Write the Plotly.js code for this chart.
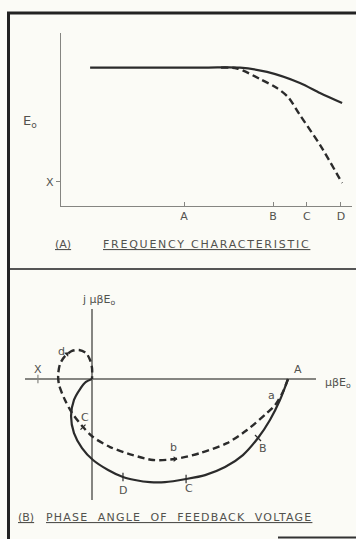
<!DOCTYPE html>
<html>
<head>
<meta charset="utf-8">
<script src="https://cdn.plot.ly/plotly-3.0.1.min.js"></script>
<style>
  body { margin: 0; background: #fbfbf6; }
  #chart { width: 356px; height: 539px; }
</style>
</head>
<body>
<div id="chart"></div>
<script>
// (A) frequency characteristic, arbitrary units
var freqTickVals = [42.3, 72.9, 84.5, 96.2]
var freqTickText = ['A', 'B', 'C', 'D']
var levelX = 14

var solidFreq = [10, 30, 50, 61.5, 70.8, 82.1, 89.0, 96.6]
var solidE0 = [80, 80, 80, 80, 77.5, 71.1, 65.3, 59.5]

var dashFreq = [55, 60.5, 68.4, 74.2, 78.0, 82.1, 89.0, 96.6]
var dashE0 = [80, 79.5, 73.4, 68.2, 63.0, 52.6, 35.3, 13.3]

// (B) feedback voltage vector locus, real / imaginary parts (A = 1)
var solidRe = [1, 0.959, 0.908, 0.847, 0.770, 0.679, 0.577, 0.480, 0.372, 0.296, 0.219, 0.158, 0.082, 0.005, -0.051, -0.092, -0.107, -0.092, -0.061, -0.031, 0]
var solidIm = [0, -0.107, -0.209, -0.301, -0.388, -0.449, -0.490, -0.510, -0.526, -0.526, -0.515, -0.500, -0.464, -0.413, -0.352, -0.276, -0.189, -0.107, -0.051, -0.015, 0]

var dashRe = [1, 0.974, 0.934, 0.893, 0.791, 0.689, 0.551, 0.423, 0.311, 0.209, 0.092, 0.005, -0.046, -0.102, -0.138, -0.168, -0.173, -0.163, -0.138, -0.102, -0.066, -0.031, -0.010, 0, 0]
var dashIm = [0, -0.066, -0.133, -0.173, -0.260, -0.327, -0.378, -0.408, -0.413, -0.388, -0.347, -0.296, -0.245, -0.173, -0.107, -0.031, 0.020, 0.077, 0.117, 0.143, 0.148, 0.133, 0.097, 0.056, 0]

// frequency marks along the loci
var solidMarkRe = [0.847, 0.480, 0.158]
var solidMarkIm = [-0.301, -0.510, -0.500]
var dashMarkRe = [-0.046]
var dashMarkIm = [-0.245]
var arrowRe = [0.423, -0.128]
var arrowIm = [-0.408, 0.128]
var pointX = -0.276

var ink = '#2b2b2b'
var grey = '#858581'
var textGrey = '#52524e'
var font = {family: 'DejaVu Sans', size: 11, color: textGrey}

var data = [
    {x: solidFreq, y: solidE0, mode: 'lines', line: {color: ink, width: 2.2, shape: 'spline', smoothing: 0.8}, xaxis: 'x', yaxis: 'y'},
    {x: dashFreq, y: dashE0, mode: 'lines', line: {color: ink, width: 2.4, dash: '7px,4px', shape: 'spline', smoothing: 0.8}, xaxis: 'x', yaxis: 'y'},
    {x: solidRe, y: solidIm, mode: 'lines', line: {color: ink, width: 2.2, shape: 'spline', smoothing: 0.8}, xaxis: 'x2', yaxis: 'y2'},
    {x: dashRe, y: dashIm, mode: 'lines', line: {color: ink, width: 2.4, dash: '7px,4px', shape: 'spline', smoothing: 0.8}, xaxis: 'x2', yaxis: 'y2'},
    {x: solidMarkRe, y: solidMarkIm, mode: 'markers', marker: {symbol: ['line-nw', 'line-ns', 'line-ns'], size: 6, line: {color: ink, width: 1.2}}, xaxis: 'x2', yaxis: 'y2'},
    {x: dashMarkRe, y: dashMarkIm, mode: 'markers', marker: {symbol: 'line-ne', size: 5, line: {color: ink, width: 1.2}}, xaxis: 'x2', yaxis: 'y2'},
    {x: arrowRe, y: arrowIm, mode: 'markers', marker: {symbol: 'triangle-right', size: 5, angle: [0, -45], color: ink}, xaxis: 'x2', yaxis: 'y2'},
    {x: [pointX], y: [0], mode: 'markers', marker: {symbol: 'line-ns', size: 6, line: {color: grey, width: 1.2}}, xaxis: 'x2', yaxis: 'y2'}
]

function lbl(x, y, text, xref, yref, extra) {
    var a = {x: x, y: y, text: text, xref: xref || 'x2', yref: yref || 'y2', showarrow: false,
        xanchor: 'center', yanchor: 'middle', font: font}
    for (var k in extra) a[k] = extra[k]
    return a
}

function spaced(s, px) {
    return '<span style="letter-spacing:' + px + 'px">' + s + '</span>'
}

var annotations = [
    lbl(0.085, 0.774, 'E<sub>o</sub>', 'paper', 'paper', {font: {family: 'DejaVu Sans', size: 13, color: textGrey}}),
    lbl(0.149, 0.5455, '<u>(A)</u>', 'paper', 'paper', {xanchor: 'left'}),
    lbl(0.284, 0.5455, '<u>' + spaced('FREQUENCY CHARACTERISTIC', 1.75) + '</u>', 'paper', 'paper', {xanchor: 'left'}),
    lbl(0.045, 0.039, '<u>(B)</u>', 'paper', 'paper', {xanchor: 'left'}),
    lbl(0.124, 0.039, '<u>' + spaced('PHASE  ANGLE  OF  FEEDBACK  VOLTAGE', 1.2) + '</u>', 'paper', 'paper', {xanchor: 'left'}),
    lbl(0.278, 0.4434, 'j μβE<sub>o</sub>', 'paper', 'paper'),
    lbl(0.949, 0.2894, 'μβE<sub>o</sub>', 'paper', 'paper'),
    lbl(1.05, 0.046, 'A'),
    lbl(pointX, 0.046, 'X'),
    lbl(0.918, -0.082, 'a'),
    lbl(0.872, -0.352, 'B'),
    lbl(0.495, -0.556, 'C'),
    lbl(0.158, -0.566, 'D'),
    lbl(0.418, -0.347, 'b'),
    lbl(-0.036, -0.194, 'C'),
    lbl(-0.158, 0.138, 'd')
]

var shapes = [
    {type: 'line', xref: 'paper', yref: 'paper', x0: 7 / 356, x1: 1, y0: 1 - 13 / 539, y1: 1 - 13 / 539, line: {color: '#222', width: 3}},
    {type: 'line', xref: 'paper', yref: 'paper', x0: 8.5 / 356, x1: 8.5 / 356, y0: 0, y1: 1 - 12 / 539, line: {color: '#222', width: 3}},
    {type: 'line', xref: 'paper', yref: 'paper', x0: 10 / 356, x1: 1, y0: 1 - 269 / 539, y1: 1 - 269 / 539, line: {color: '#555', width: 2}},
    {type: 'line', xref: 'paper', yref: 'paper', x0: 278 / 356, x1: 1, y0: 1 - 537.5 / 539, y1: 1 - 537.5 / 539, line: {color: '#333', width: 2}}
]

var layout = {
    width: 356,
    height: 539,
    margin: {l: 0, r: 0, t: 0, b: 0},
    paper_bgcolor: '#fbfbf6',
    plot_bgcolor: 'rgba(0,0,0,0)',
    showlegend: false,
    font: font,
    xaxis: {
        domain: [61 / 356, 352 / 356], range: [0, 100], showgrid: false, zeroline: false,
        showline: true, linecolor: grey, linewidth: 1.2,
        tickvals: freqTickVals, ticktext: freqTickText, ticks: 'inside', ticklen: 4, tickcolor: grey
    },
    yaxis: {
        domain: [1 - 206 / 539, 1 - 33 / 539], range: [0, 100], showgrid: false, zeroline: false,
        showline: true, linecolor: grey, linewidth: 1.2,
        tickvals: [levelX], ticktext: ['X'], ticks: 'outside', ticklen: 4, tickcolor: grey
    },
    xaxis2: {
        domain: [25 / 356, 316 / 356], range: [-0.342, 1.143], showgrid: false, showticklabels: false,
        zeroline: true, zerolinecolor: grey, zerolinewidth: 1.2, showline: false, anchor: 'y2'
    },
    yaxis2: {
        domain: [1 - 500 / 539, 1 - 309 / 539], range: [-0.617, 0.357], showgrid: false, showticklabels: false,
        zeroline: true, zerolinecolor: grey, zerolinewidth: 1.2, showline: false, anchor: 'x2'
    },
    annotations: annotations,
    shapes: shapes
}

Plotly.newPlot('chart', data, layout, {displayModeBar: false, staticPlot: true})
</script>
</body>
</html>
